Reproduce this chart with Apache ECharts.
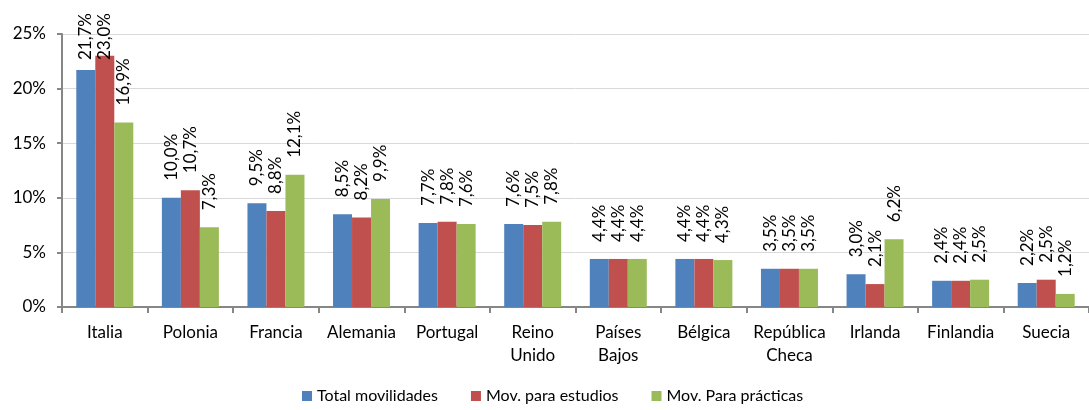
<!DOCTYPE html>
<html><head><meta charset="utf-8">
<script src="https://cdn.jsdelivr.net/npm/echarts@6/dist/echarts.min.js"></script>
<style>html,body{margin:0;padding:0;background:#fff}#c{width:1089px;height:410px}</style>
</head><body><div id="c"></div>
<script>
const categories = ['Italia','Polonia','Francia','Alemania','Portugal','Reino\nUnido','Países\nBajos','Bélgica','República\nCheca','Irlanda','Finlandia','Suecia'];
const seriesNames = ['Total movilidades','Mov. para estudios','Mov. Para prácticas'];
const total = [21.7,10.0,9.5,8.5,7.7,7.6,4.4,4.4,3.5,3.0,2.4,2.2];
const estudios = [23.0,10.7,8.8,8.2,7.8,7.5,4.4,4.4,3.5,2.1,2.4,2.5];
const practicas = [16.9,7.3,12.1,9.9,7.6,7.8,4.4,4.3,3.5,6.2,2.5,1.2];
const colors = ['#4F81BD','#C0504D','#9BBB59'];
const FONT = 'Lato';
const LABEL_DIST = 17;
const TOP_LIMIT = 13;
const chart = echarts.init(document.getElementById('c'));
function mk(name, data, color){
  return {
    name, type:'bar', data, barWidth:19, barGap:'0%',
    itemStyle:{color},
    label:{show:true, position:'top', rotate:90, align:'left', verticalAlign:'middle', distance:LABEL_DIST,
      fontFamily:FONT, fontSize:17, color:'#000',
      formatter:p=>p.value.toFixed(1).replace('.',',')+'%'},
    labelLayout:function(p){
      if(p.labelRect && p.labelRect.y < TOP_LIMIT){
        return {y: p.rect.y - LABEL_DIST + (TOP_LIMIT - p.labelRect.y)};
      }
      return {};
    }
  };
}
chart.setOption({
  animation:false,
  grid:{left:62, top:34, width:1038, height:273, containLabel:false},
  legend:{bottom:1, left:297, itemWidth:10, itemHeight:10, itemGap:33,
    icon:'rect', textStyle:{fontFamily:FONT, fontSize:16, color:'#000'}, data:seriesNames},
  xAxis:{type:'category', data:categories,
    axisLine:{lineStyle:{color:'#868686', width:2}},
    axisTick:{show:true, alignWithLabel:false, length:6, lineStyle:{color:'#868686', width:2}},
    axisLabel:{fontFamily:FONT, fontSize:17, color:'#000', margin:14, lineHeight:23, interval:0}},
  yAxis:{type:'value', min:0, max:25, interval:5,
    axisLine:{show:true, lineStyle:{color:'#868686', width:2}},
    axisTick:{show:true, length:5, lineStyle:{color:'#868686', width:2}},
    splitLine:{lineStyle:{color:'#D9D9D9'}},
    axisLabel:{fontFamily:FONT, fontSize:17, color:'#000', margin:16, formatter:v=>v+'%'}},
  series:[mk(seriesNames[0],total,colors[0]), mk(seriesNames[1],estudios,colors[1]), mk(seriesNames[2],practicas,colors[2])]
});
</script></body></html>
